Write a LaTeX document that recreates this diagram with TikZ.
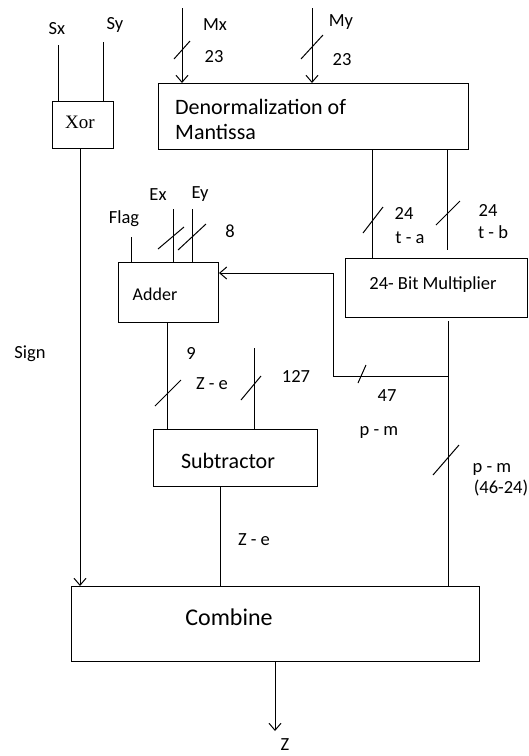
\documentclass[tikz,border=0pt]{standalone}
\usepackage{fontspec}
\setmainfont{Carlito}
\newfontfamily\xorfont{Liberation Serif}
\usetikzlibrary{arrows.meta}
\tikzset{
  blk/.style={draw, line width=1pt, inner sep=0pt, anchor=north west},
  wire/.style={line width=1pt},
  arr/.style={line width=1pt, -{Straight Barb[length=7pt,width=12pt,line width=1pt]}},
  lbl/.style={inner sep=0pt, font=\fontsize{18.5}{22}\selectfont, text height=12pt, text depth=0pt},
  btxt/.style={inner sep=0pt, text height=14pt, text depth=0pt},
  busmark/.style={line width=1pt}
}
\newcommand{\busslash}[3]{\draw[busmark] ($(#1)+(-#2,#3)$) -- ($(#1)+(#2,-#3)$);}
\usetikzlibrary{calc}
\begin{document}
\begin{tikzpicture}[x=1pt,y=-1pt]
\useasboundingbox (0,0) rectangle (529,756);
% blocks
\node[blk, minimum width=61pt, minimum height=47pt] (xor) at (52,101) {};
\node[blk, minimum width=310pt, minimum height=66pt] (den) at (158,83) {};
\node[blk, minimum width=100pt, minimum height=60pt] (add) at (118,262) {};
\node[blk, minimum width=182pt, minimum height=59pt] (mul) at (345,258) {};
\node[blk, minimum width=164pt, minimum height=57pt] (sub) at (153,429) {};
\node[blk, minimum width=408pt, minimum height=75pt] (com) at (71,586) {};
% block texts
\node[btxt, font=\xorfont\fontsize{19}{22}\selectfont] (xort) at (80,121) {Xor};
\node[inner sep=0pt, anchor=west, align=left, font=\fontsize{22}{25}\selectfont] (dent) at (175,119) {Denormalization of\\Mantissa};
\node[btxt, font=\fontsize{18}{21}\selectfont] (addt) at (155,293) {Adder};
\node[btxt, font=\fontsize{18.5}{22}\selectfont] (mult) at (433,282) {24- Bit Multiplier};
\node[btxt, font=\fontsize{22}{25}\selectfont] (subt) at (228,461) {Subtractor};
\node[btxt, font=\fontsize{24}{28}\selectfont] (comt) at (229,618) {Combine};
% labels
\node[lbl] (sx) at (57,28) {Sx};
\node[lbl] (sy) at (115,23) {Sy};
\node[lbl] (mx) at (215,24) {Mx};
\node[lbl] (mxw) at (214,56) {23};
\node[lbl] (my) at (341,20) {My};
\node[lbl] (myw) at (342,59) {23};
\node[lbl] (flag) at (124,217) {Flag};
\node[lbl] (ex) at (158,194) {Ex};
\node[lbl] (ey) at (200,192) {Ey};
\node[lbl] (ew) at (230,231) {8};
\node[lbl] (taw) at (404,213) {24};
\node[lbl] (ta) at (410,237) {t - a};
\node[lbl] (tbw) at (488,210) {24};
\node[lbl] (tb) at (493,232) {t - b};
\node[lbl] (sign) at (30,352) {Sign};
\node[lbl] (nine) at (191,353) {9};
\node[lbl] (ze1) at (212,383) {Z - e};
\node[lbl] (bias) at (296,376) {127};
\node[lbl] (fw) at (387,395) {47};
\node[lbl] (pm1) at (379,429) {p - m};
\node[lbl] (pm2) at (492,466) {p - m};
\node[lbl] (pmw) at (501,487) {(46-24)};
\node[lbl] (ze2) at (254,539) {Z - e};
\node[lbl] (z) at (285,744) {Z};
% free ends
\coordinate (sxs) at (58,45);
\coordinate (sys) at (103,42);
\coordinate (mxs) at (182,8);
\coordinate (mys) at (312,8);
\coordinate (flags) at (131,237);
\coordinate (exs) at (173,209);
\coordinate (eys) at (192,209);
\coordinate (bs) at (254,348);
\coordinate (tbe) at (447,250);
\coordinate (mo) at (448,321);
\coordinate (jn) at (448,376);
\coordinate (fb1) at (333,376);
\coordinate (fb2) at (333,273);
\coordinate (ze) at (275,731);
% connectors
\draw[wire] (sxs) -- (sxs |- xor.north);
\draw[wire] (sys) -- (sys |- xor.north);
\draw[arr] (xor.south -| 80,0) -- (com.north -| 80,0);
\draw[arr] (mxs) -- (mxs |- den.north);
\draw[arr] (mys) -- (mys |- den.north);
\draw[wire] (den.south -| 372,0) -- (mul.north -| 372,0);
\draw[wire] (den.south -| tbe) -- (tbe);
\draw[wire] (flags) -- (flags |- add.north);
\draw[wire] (exs) -- (exs |- add.north);
\draw[wire] (eys) -- (eys |- add.north);
\draw[wire] (mo) -- (mo |- com.north);
\draw[arr] (jn) -- (fb1) -- (fb2) -- (fb2 -| add.east);
\draw[wire] (add.south -| 167,0) -- (sub.north -| 167,0);
\draw[wire] (bs) -- (bs |- sub.north);
\draw[wire] (sub.south -| 220,0) -- (com.north -| 220,0);
\draw[arr] (com.south -| ze) -- (ze);
% bus slashes
\busslash{182,50}{8}{9}
\busslash{312,47}{11}{12}
\busslash{373,220}{10}{13}
\busslash{448,213}{12}{12}
\busslash{171,238}{13}{11}
\busslash{192,237}{14}{13}
\busslash{362,374}{4}{9}
\busslash{168,393}{13}{13}
\busslash{251,388}{10}{12}
\busslash{446,460}{13}{15}
\end{tikzpicture}
\end{document}
